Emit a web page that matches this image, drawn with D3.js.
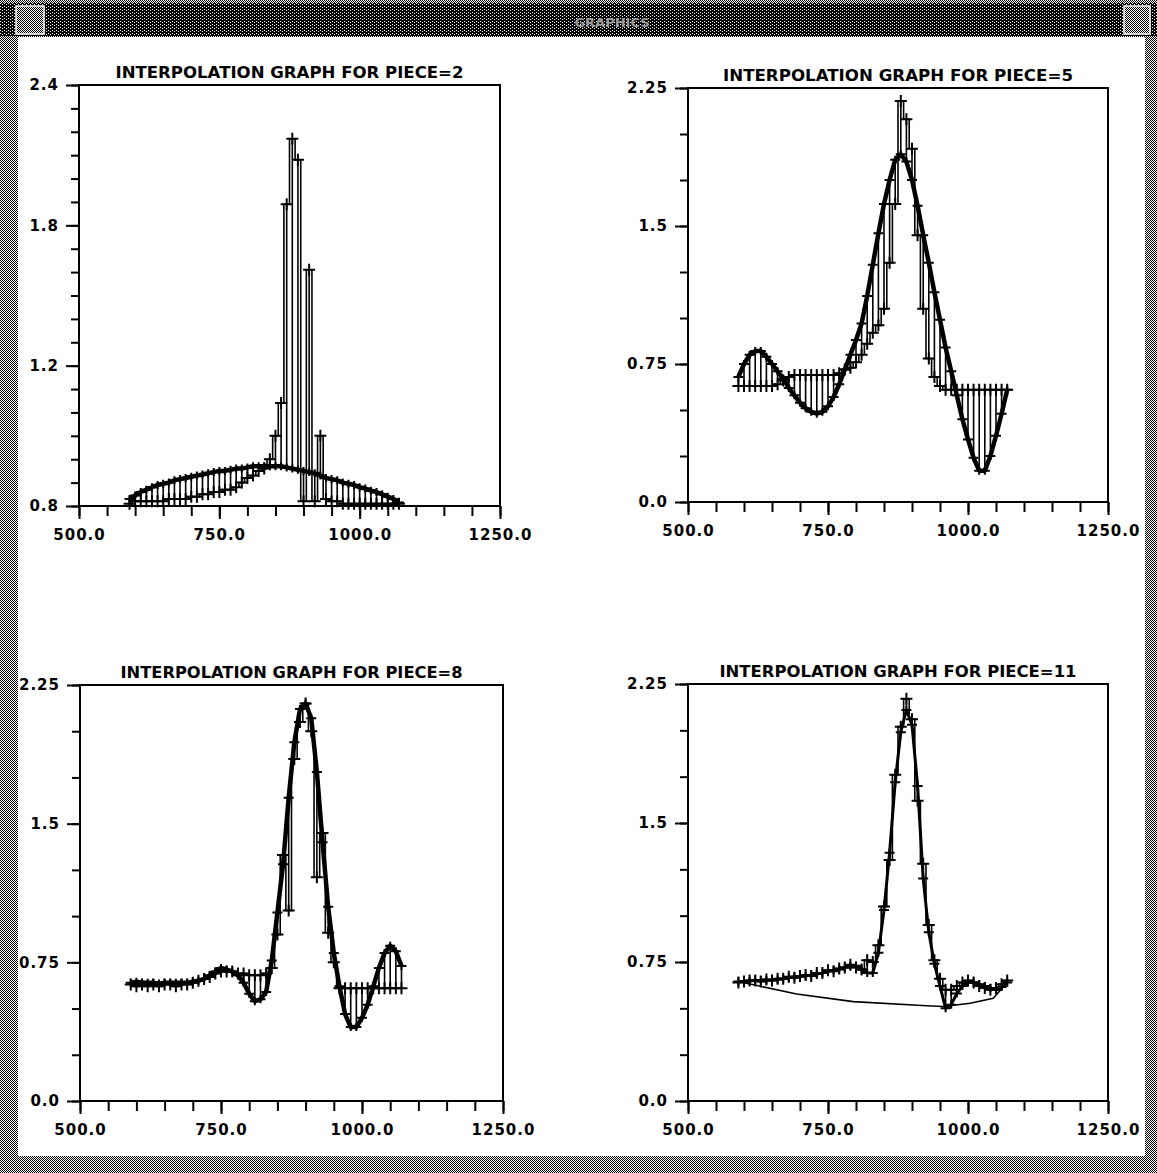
<!DOCTYPE html>
<html>
<head>
<meta charset="utf-8">
<script src="https://cdn.jsdelivr.net/npm/d3@7"></script>
<style>
body { margin: 0; background: #fff; }
svg { display: block; }
text { font-family: "DejaVu Sans", sans-serif; font-weight: bold; }
</style>
</head>
<body>
<div id="chart"></div>
<script>
// wavelength positions shared by every piece
var xs = [590, 600, 610, 620, 630, 640, 650, 660, 670, 680,
          690, 700, 710, 720, 730, 740, 750, 760, 770, 780,
          790, 800, 810, 820, 830, 840, 850, 860, 870, 880,
          890, 900, 910, 920, 930, 940, 950, 960, 970, 980,
          990, 1000, 1010, 1020, 1030, 1040, 1050, 1060, 1070];

var xTicks = [500, 550, 600, 650, 700, 750, 800, 850, 900, 950, 1000, 1050, 1100, 1150, 1200, 1250];
var xMajor = [500, 750, 1000, 1250];
var xLabels = ["500.0", "750.0", "1000.0", "1250.0"];

var yTicksA = [0.6, 0.7, 0.8, 0.9, 1.0, 1.1, 1.2, 1.3, 1.4, 1.5, 1.6, 1.7, 1.8, 1.9, 2.0, 2.1, 2.2, 2.3, 2.4];
var yMajorA = [0.6, 1.2, 1.8, 2.4];
var yLabelsA = ["0.8", "1.2", "1.8", "2.4"];

var yTicksB = [0, 0.25, 0.5, 0.75, 1.0, 1.25, 1.5, 1.75, 2.0, 2.25];
var yMajorB = [0, 0.75, 1.5, 2.25];
var yLabelsB = ["0.0", "0.75", "1.5", "2.25"];

var titles = ["INTERPOLATION GRAPH FOR PIECE=2", "INTERPOLATION GRAPH FOR PIECE=5",
              "INTERPOLATION GRAPH FOR PIECE=8", "INTERPOLATION GRAPH FOR PIECE=11"];

// piece 2
var fit2 = [0.63, 0.645, 0.66, 0.67, 0.68, 0.69, 0.695, 0.70, 0.71, 0.715,
            0.72, 0.725, 0.73, 0.735, 0.74, 0.745, 0.75, 0.75, 0.755, 0.76,
            0.76, 0.765, 0.77, 0.77, 0.77, 0.77, 0.77, 0.77, 0.765, 0.76,
            0.755, 0.75, 0.745, 0.74, 0.73, 0.72, 0.715, 0.71, 0.70, 0.695,
            0.69, 0.68, 0.675, 0.665, 0.66, 0.65, 0.64, 0.63, 0.615];
var data2 = [0.61, 0.62, 0.62, 0.62, 0.62, 0.62, 0.62, 0.63, 0.63, 0.63,
             0.63, 0.64, 0.64, 0.65, 0.65, 0.66, 0.66, 0.67, 0.67, 0.68,
             0.70, 0.72, 0.73, 0.75, 0.76, 0.80, 0.90, 1.04, 1.89, 2.17,
             2.08, 0.62, 1.61, 0.62, 0.90, 0.63, 0.62, 0.62, 0.61, 0.61,
             0.61, 0.61, 0.61, 0.61, 0.61, 0.61, 0.61, 0.61, 0.61];

// piece 5
var fit5 = [0.68, 0.75, 0.80, 0.82, 0.82, 0.79, 0.75, 0.71, 0.67, 0.62,
            0.58, 0.54, 0.51, 0.49, 0.48, 0.49, 0.52, 0.57, 0.64, 0.72,
            0.80, 0.88, 0.97, 1.12, 1.29, 1.46, 1.62, 1.75, 1.86, 1.89,
            1.85, 1.75, 1.61, 1.45, 1.30, 1.14, 0.99, 0.84, 0.71, 0.58,
            0.45, 0.34, 0.24, 0.17, 0.17, 0.25, 0.36, 0.48, 0.61];
var data5 = [0.63, 0.63, 0.63, 0.63, 0.63, 0.63, 0.63, 0.64, 0.66, 0.68,
             0.69, 0.69, 0.69, 0.69, 0.69, 0.69, 0.69, 0.69, 0.70, 0.72,
             0.73, 0.76, 0.80, 0.86, 0.92, 0.96, 1.05, 1.30, 1.62, 2.18,
             2.08, 1.92, 1.45, 1.05, 0.78, 0.68, 0.63, 0.61, 0.61, 0.61,
             0.61, 0.61, 0.61, 0.61, 0.61, 0.61, 0.61, 0.61, 0.61];

// piece 8
var fit8 = [0.64, 0.645, 0.64, 0.64, 0.64, 0.635, 0.64, 0.64, 0.64, 0.64,
            0.64, 0.645, 0.65, 0.66, 0.68, 0.70, 0.72, 0.71, 0.70, 0.68,
            0.64, 0.58, 0.54, 0.55, 0.59, 0.76, 1.02, 1.28, 1.64, 1.94,
            2.12, 2.15, 2.07, 1.78, 1.40, 1.05, 0.80, 0.62, 0.47, 0.40,
            0.40, 0.45, 0.52, 0.62, 0.72, 0.80, 0.84, 0.81, 0.73];
var data8 = [0.63, 0.62, 0.63, 0.62, 0.63, 0.62, 0.63, 0.63, 0.62, 0.63,
             0.63, 0.64, 0.65, 0.66, 0.67, 0.69, 0.70, 0.70, 0.70, 0.69,
             0.69, 0.68, 0.68, 0.68, 0.69, 0.72, 0.90, 1.33, 1.03, 1.85,
             2.05, 2.15, 2.00, 1.21, 1.45, 0.91, 0.75, 0.61, 0.61, 0.61,
             0.61, 0.61, 0.61, 0.61, 0.61, 0.61, 0.61, 0.61, 0.61];

// piece 11
var fit11 = [0.645, 0.645, 0.648, 0.65, 0.65, 0.652, 0.653, 0.655, 0.66, 0.665,
             0.67, 0.672, 0.675, 0.68, 0.685, 0.69, 0.70, 0.705, 0.71, 0.72,
             0.73, 0.73, 0.71, 0.69, 0.69, 0.80, 1.03, 1.34, 1.72, 1.99,
             2.11, 2.03, 1.70, 1.20, 0.91, 0.74, 0.62, 0.50, 0.52, 0.58,
             0.62, 0.64, 0.64, 0.63, 0.62, 0.61, 0.60, 0.615, 0.64];
var data11 = [0.64, 0.645, 0.65, 0.65, 0.645, 0.655, 0.65, 0.66, 0.66, 0.67,
              0.665, 0.675, 0.68, 0.675, 0.69, 0.69, 0.705, 0.70, 0.715, 0.72,
              0.735, 0.72, 0.71, 0.76, 0.75, 0.84, 1.05, 1.30, 1.76, 2.02,
              2.17, 2.06, 1.62, 1.28, 0.95, 0.76, 0.66, 0.60, 0.60, 0.62,
              0.64, 0.65, 0.64, 0.62, 0.61, 0.60, 0.61, 0.63, 0.65];
// closing stroke of piece 11, drawn back from the last point to the first
var wrapX11 = [1070, 1045, 1004, 956, 926, 795, 694, 590];
var wrapY11 = [0.64, 0.554, 0.527, 0.51, 0.514, 0.536, 0.577, 0.645];

var W = 1157, H = 1173;

var svg = d3.select("#chart").append("svg")
    .attr("width", W)
    .attr("height", H);

// dithered window frame
var defs = svg.append("defs");
var dith = defs.append("pattern").attr("id", "dith")
    .attr("width", 2).attr("height", 2).attr("patternUnits", "userSpaceOnUse");
dith.append("rect").attr("width", 2).attr("height", 2).attr("fill", "#fff");
dith.append("rect").attr("width", 1).attr("height", 1).attr("fill", "#000");
dith.append("rect").attr("x", 1).attr("y", 1).attr("width", 1).attr("height", 1).attr("fill", "#000");
var dark = defs.append("pattern").attr("id", "dark")
    .attr("width", 4).attr("height", 3).attr("patternUnits", "userSpaceOnUse");
dark.append("rect").attr("width", 4).attr("height", 3).attr("fill", "#000");
dark.append("rect").attr("width", 1).attr("height", 1).attr("fill", "#fff");
dark.append("rect").attr("x", 2).attr("y", 1).attr("width", 1).attr("height", 1).attr("fill", "#fff");

svg.append("rect").attr("width", W).attr("height", H).attr("fill", "url(#dith)");
svg.append("rect").attr("x", 18).attr("y", 37).attr("width", 1127).attr("height", 1119).attr("fill", "#fff");
svg.append("rect").attr("x", 0).attr("y", 3).attr("width", W).attr("height", 33).attr("fill", "url(#dark)");
svg.append("rect").attr("x", 16).attr("y", 6).attr("width", 28).attr("height", 28)
    .attr("fill", "url(#dith)").attr("stroke", "#fff").attr("stroke-width", 1.5);
svg.append("rect").attr("x", 1124).attr("y", 6).attr("width", 26).attr("height", 28)
    .attr("fill", "url(#dith)").attr("stroke", "#fff").attr("stroke-width", 1.5);
svg.append("text").text("GRAPHICS")
    .attr("x", 612).attr("y", 27)
    .attr("text-anchor", "middle")
    .attr("font-size", "13px")
    .attr("fill", "#9a9a9a");

var panels = [
    {box: [79, 500, 85, 506], yDomain: [0.6, 2.4], yTicks: yTicksA, yMajor: yMajorA, yLabels: yLabelsA,
     fit: fit2, data: data2, title: titles[0], tlen: 348, fitWidth: 4.5},
    {box: [688, 1108, 88, 502], yDomain: [0, 2.25], yTicks: yTicksB, yMajor: yMajorB, yLabels: yLabelsB,
     fit: fit5, data: data5, title: titles[1], tlen: 350, fitWidth: 4.5},
    {box: [80, 503, 685, 1101], yDomain: [0, 2.25], yTicks: yTicksB, yMajor: yMajorB, yLabels: yLabelsB,
     fit: fit8, data: data8, title: titles[2], tlen: 342, fitWidth: 4.5},
    {box: [688, 1108, 684, 1101], yDomain: [0, 2.25], yTicks: yTicksB, yMajor: yMajorB, yLabels: yLabelsB,
     fit: fit11, data: data11, title: titles[3], tlen: 357, fitWidth: 3, wrapX: wrapX11, wrapY: wrapY11}
];

for (var k = 0; k < panels.length; k++) {
    drawPanel(panels[k]);
}

function drawPanel(p) {
    var x0 = p.box[0], x1 = p.box[1], y0 = p.box[2], y1 = p.box[3];
    var x = d3.scaleLinear().domain([500, 1250]).range([x0, x1]);
    var y = d3.scaleLinear().domain(p.yDomain).range([y1, y0]);
    var g = svg.append("g");

    // title
    g.append("text")
        .text(p.title)
        .attr("x", (x0 + x1) / 2)
        .attr("y", y0 - 7)
        .attr("text-anchor", "middle")
        .attr("font-size", "16px")
        .attr("textLength", p.tlen)
        .attr("lengthAdjust", "spacingAndGlyphs");

    // minor and major ticks
    var gx = g.append("g").attr("transform", "translate(0," + y1 + ")");
    gx.append("g").call(d3.axisBottom(x).tickValues(xTicks).tickSize(10).tickSizeOuter(0).tickFormat(""));
    gx.append("g").call(d3.axisBottom(x).tickValues(xMajor).tickSize(13).tickSizeOuter(0).tickPadding(10)
        .tickFormat(function(d, i) { return xLabels[i]; }));
    var gy = g.append("g").attr("transform", "translate(" + x0 + ",0)");
    gy.append("g").call(d3.axisLeft(y).tickValues(p.yTicks).tickSize(8).tickSizeOuter(0).tickFormat(""));
    gy.append("g").call(d3.axisLeft(y).tickValues(p.yMajor).tickSize(13).tickSizeOuter(0).tickPadding(7)
        .tickFormat(function(d, i) { return p.yLabels[i]; }));
    g.selectAll(".domain").remove();
    g.selectAll(".tick line").attr("stroke", "#000").attr("stroke-width", 2);
    g.selectAll(".tick text")
        .attr("fill", "#000")
        .attr("font-size", "15px")
        .attr("font-family", "DejaVu Sans, sans-serif")
        .attr("font-weight", "bold")
        .attr("letter-spacing", "1px");

    // frame
    g.append("rect")
        .attr("x", x0).attr("y", y0)
        .attr("width", x1 - x0).attr("height", y1 - y0)
        .attr("fill", "none")
        .attr("stroke", "#000")
        .attr("stroke-width", 2);

    // vertical strokes between curve and samples
    g.selectAll(".comb").data(xs).enter().append("line")
        .attr("x1", function(d) { return x(d); })
        .attr("x2", function(d) { return x(d); })
        .attr("y1", function(d, i) { return y(p.fit[i]); })
        .attr("y2", function(d, i) { return y(p.data[i]); })
        .attr("stroke", "#000")
        .attr("stroke-width", 1.6);

    var line = d3.line()
        .x(function(d) { return x(d[0]); })
        .y(function(d) { return y(d[1]); });

    // samples joined in order, as a staircase
    g.append("path")
        .attr("d", line.curve(d3.curveStep)(xs.map(function(d, i) { return [d, p.data[i]]; })))
        .attr("fill", "none")
        .attr("stroke", "#000")
        .attr("stroke-width", 1.6);
    line.curve(d3.curveLinear);

    // interpolated curve
    g.append("path")
        .attr("d", line(xs.map(function(d, i) { return [d, p.fit[i]]; })))
        .attr("fill", "none")
        .attr("stroke", "#000")
        .attr("stroke-width", p.fitWidth)
        .attr("stroke-linejoin", "round");

    if (p.wrapX) {
        g.append("path")
            .attr("d", line(p.wrapX.map(function(d, i) { return [d, p.wrapY[i]]; })))
            .attr("fill", "none")
            .attr("stroke", "#000")
            .attr("stroke-width", 1.6);
    }

    // plus markers on samples and curve
    var plus = "M-6,0H6M0,-6V6";
    g.selectAll(".pd").data(xs).enter().append("path")
        .attr("d", plus)
        .attr("transform", function(d, i) { return "translate(" + x(d) + "," + y(p.data[i]) + ")"; })
        .attr("stroke", "#000")
        .attr("stroke-width", 2);
    g.selectAll(".pf").data(xs).enter().append("path")
        .attr("d", "M-5,0H5M0,-4V4")
        .attr("transform", function(d, i) { return "translate(" + x(d) + "," + y(p.fit[i]) + ")"; })
        .attr("stroke", "#000")
        .attr("stroke-width", 2);
}
</script>
</body>
</html>
